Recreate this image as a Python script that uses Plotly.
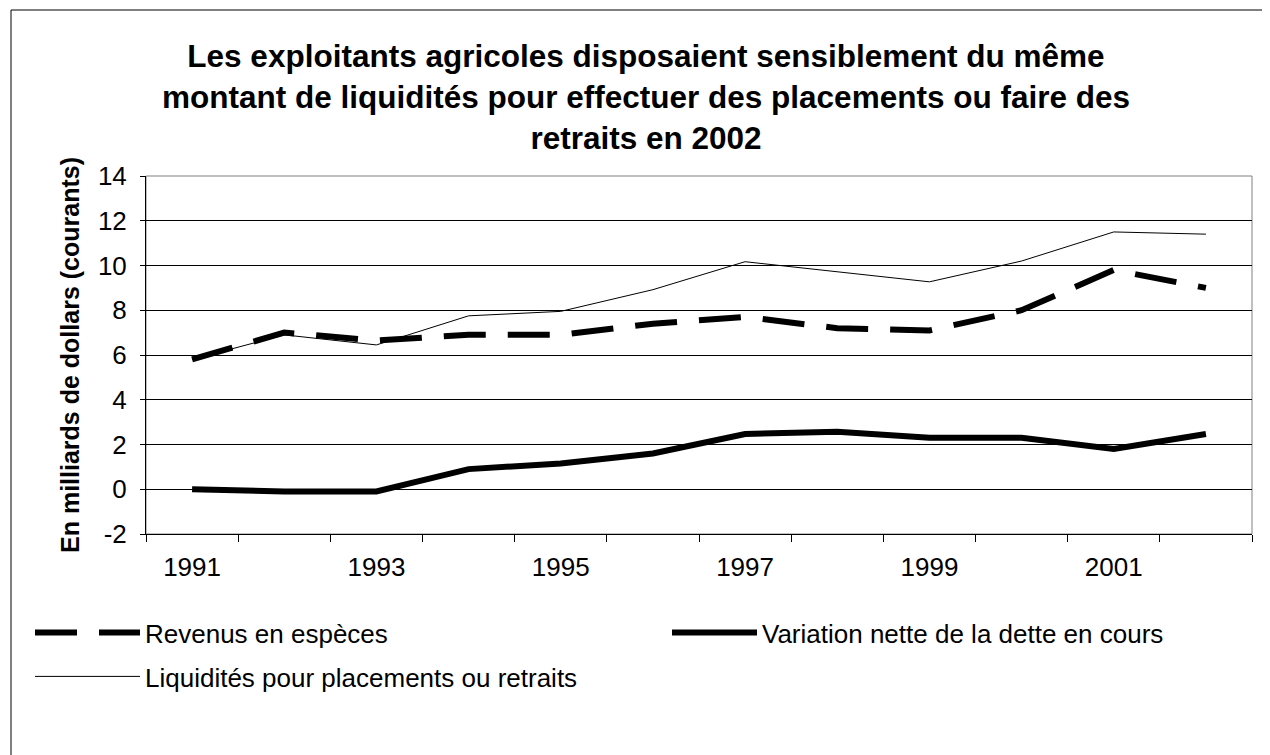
import plotly.graph_objects as go

years = ["1991", "1992", "1993", "1994", "1995", "1996", "1997", "1998", "1999", "2000", "2001", "2002"]
year_labels = ["1991", "", "1993", "", "1995", "", "1997", "", "1999", "", "2001", ""]
y_ticks = [-2, 0, 2, 4, 6, 8, 10, 12, 14]
y_tick_labels = ["-2", "0", "2", "4", "6", "8", "10", "12", "14"]
revenus = [5.8, 7.0, 6.65, 6.9, 6.9, 7.4, 7.7, 7.2, 7.1, 8.0, 9.8, 9.0]
dette = [0.0, -0.1, -0.1, 0.9, 1.15, 1.6, 2.47, 2.57, 2.3, 2.3, 1.8, 2.47]
liquidites = [5.8, 6.9, 6.45, 7.75, 7.95, 8.92, 10.17, 9.73, 9.27, 10.2, 11.5, 11.4]

names = ["Revenus en espèces", "Variation nette de la dette en cours", "Liquidités pour placements ou retraits"]

FONT = "Arial, 'Liberation Sans', sans-serif"
W, H = 1270, 755
# plot area in figure coordinates (page shows the figure offset by ~8px)
L, R, T, B = 138, 1244, 168, 526

pw = R - L
ph = B - T
def px_x(x):
    return (x - L) / pw
def px_y(y):
    return (B - y) / ph

fig = go.Figure()
fig.add_trace(go.Scatter(x=years, y=liquidites, name=names[2], mode="lines",
                         line=dict(color="black", width=1), legend="legend3"))
fig.add_trace(go.Scatter(x=years, y=revenus, name=names[0], mode="lines",
                         line=dict(color="black", width=6, dash="42px,22px"), legend="legend"))
fig.add_trace(go.Scatter(x=years, y=dette, name=names[1], mode="lines",
                         line=dict(color="black", width=6), legend="legend2"))

leg_common = dict(orientation="v", xanchor="left", yanchor="top",
                  font=dict(size=26, color="black", family=FONT),
                  bgcolor="rgba(0,0,0,0)", borderwidth=0)

fig.update_layout(
    width=W, height=H,
    margin=dict(l=L, r=W - R, t=T, b=H - B, autoexpand=False),
    paper_bgcolor="white", plot_bgcolor="white",
    font=dict(family=FONT, color="black", size=26),
    title=dict(
        text="Les exploitants agricoles disposaient sensiblement du même<br>"
             "montant de liquidités pour effectuer des placements ou faire des<br>"
             "retraits en 2002",
        font=dict(family=FONT, size=31.5, color="black", weight="bold"),
        x=638 / W, xanchor="center", xref="container",
        y=1 - 59 / H, yanchor="middle", yref="container",
    ),
    xaxis=dict(
        type="category", tickson="boundaries", range=[-0.5, 11.5],
        tickmode="array", tickvals=years, ticktext=year_labels,
        ticks="outside", ticklen=7, tickcolor="black", tickwidth=1,
        showgrid=False, showline=True, linecolor="black", linewidth=1,
        tickfont=dict(size=26, color="black"),
        ticklabelstandoff=10,
        zeroline=False,
    ),
    yaxis=dict(
        range=[-2, 14], tickmode="array", tickvals=y_ticks, ticktext=y_tick_labels,
        ticks="outside", ticklen=5, tickcolor="black", tickwidth=1,
        showgrid=True, gridcolor="black", gridwidth=1,
        zeroline=True, zerolinecolor="black", zerolinewidth=1,
        showline=True, linecolor="black", linewidth=1,
        tickfont=dict(size=26, color="black"),
        ticklabelstandoff=8,
        title=dict(text="En milliards de dollars (courants)",
                   font=dict(size=25, color="black", weight="bold"),
                   standoff=11),
    ),
    legend=dict(x=px_x(22), y=px_y(601), itemwidth=105, **leg_common),
    legend2=dict(x=px_x(659), y=px_y(601), itemwidth=85, **leg_common),
    legend3=dict(x=px_x(22), y=px_y(645), itemwidth=105, **leg_common),
    showlegend=True,
)

# plot area frame (top/right gray)
fig.add_shape(type="rect", xref="paper", yref="paper", x0=0, x1=1, y0=0, y1=1,
              line=dict(color="#808080", width=1), layer="below")
# chart area border
fig.add_shape(type="rect", xref="paper", yref="paper",
              x0=px_x(3), x1=px_x(1290), y0=px_y(780), y1=px_y(2),
              line=dict(color="black", width=1), layer="below")

fig.write_html("out.html")
